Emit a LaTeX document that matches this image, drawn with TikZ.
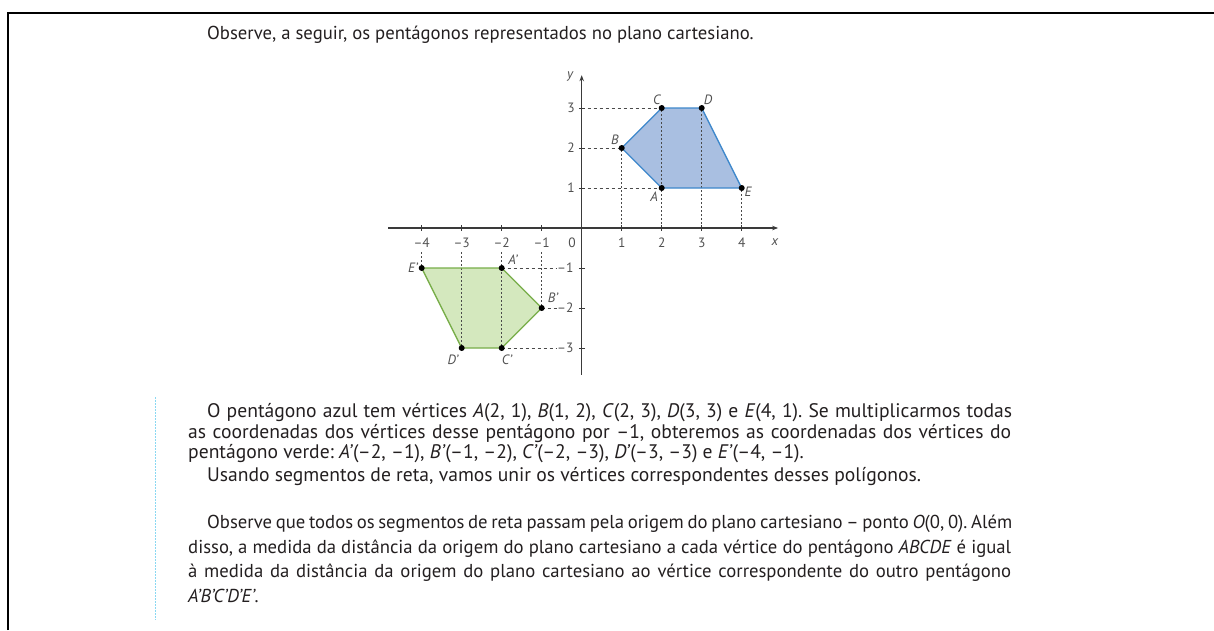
\documentclass[tikz,border=0pt]{standalone}
\usepackage{fontspec}
\setmainfont{PT Sans}
\usetikzlibrary{arrows.meta}
\definecolor{txt}{HTML}{231F20}
\definecolor{labc}{HTML}{505050}
\definecolor{axc}{HTML}{3A3A3A}
\definecolor{bluefill}{HTML}{A9BFE1}
\definecolor{bluedraw}{HTML}{3D87CB}
\definecolor{greenfill}{HTML}{D4E8BE}
\definecolor{greendraw}{HTML}{77AD48}
\definecolor{guide}{HTML}{4A4A4A}
\definecolor{cyanline}{HTML}{8AD8F2}
\frenchspacing
\begin{document}
\begin{tikzpicture}[x=1pt,y=-1pt,
  body/.style={anchor=base west, inner sep=0pt, text=txt, font=\fontsize{18.7}{22}\selectfont},
  bodyb/.style={anchor=base west, inner sep=0pt, text=txt, font=\fontsize{19.6}{22}\selectfont},
  ticklab/.style={inner sep=0pt, text=labc, font=\fontsize{13.5}{15}\selectfont},
  ptlab/.style={inner sep=0pt, text=labc, font=\fontsize{13.5}{15}\selectfont\itshape},
  axisline/.style={draw=axc, line width=1.3pt},
  hguide/.style={draw=guide, line width=0.9pt, dash pattern=on 3pt off 3pt},
  vguide/.style={draw=guide, line width=0.9pt, dash pattern=on 2pt off 2pt},
  vertexdot/.style={fill=black},
  tickmark/.style={draw=axc, line width=0.9pt}]
\useasboundingbox (0,0) rectangle (1214,630);
% frame
\coordinate (f1) at (7.5,630);
\coordinate (f2) at (7.5,12.5);
\coordinate (f3) at (1214,12.5);
\draw[line width=2pt] (f1) -- (f2) -- (f3);
% cyan margin line
\coordinate (c1) at (155,397);
\coordinate (c2) at (155,620);
\draw[cyanline, line width=0.8pt, dash pattern=on 1.5pt off 1.5pt] (c1) -- (c2);

% title
\node[body] (title) at (207,39) {Observe, a seguir, os pentágonos representados no plano cartesiano.};

% graph
\begin{scope}[shift={(581.7,228)}, x=40pt, y=40pt]
  \coordinate (O) at (0,0);
  \coordinate (A) at (2,1);
  \coordinate (B) at (1,2);
  \coordinate (C) at (2,3);
  \coordinate (D) at (3,3);
  \coordinate (E) at (4,1);
  \coordinate (Ap) at (-2,-1);
  \coordinate (Bp) at (-1,-2);
  \coordinate (Cp) at (-2,-3);
  \coordinate (Dp) at (-3,-3);
  \coordinate (Ep) at (-4,-1);
  \fill[bluefill] (A) -- (B) -- (C) -- (D) -- (E) -- cycle;
  \fill[greenfill] (Ap) -- (Bp) -- (Cp) -- (Dp) -- (Ep) -- cycle;
  % guide endpoints
  \coordinate (y1) at (0,1); \coordinate (y2) at (0,2); \coordinate (y3) at (0,3);
  \coordinate (x1) at (1,0); \coordinate (x2) at (2,0); \coordinate (x3) at (3,0); \coordinate (x4) at (4,0);
  \coordinate (ym1) at (-0.62,-1); \coordinate (ym2) at (-0.62,-2); \coordinate (ym3) at (-0.62,-3);
  \coordinate (xm1) at (-1,-0.6); \coordinate (xm2) at (-2,-0.6); \coordinate (xm3) at (-3,-0.6); \coordinate (xm4) at (-4,-0.6);
  \draw[hguide] (y3) -- (C);
  \draw[hguide] (y2) -- (B);
  \draw[hguide] (y1) -- (A);
  \draw[vguide] (x1) -- (B);
  \draw[vguide] (x2) -- (C);
  \draw[vguide] (x3) -- (D);
  \draw[vguide] (x4) -- (E);
  \draw[hguide] (Ap) -- (ym1);
  \draw[hguide] (Bp) -- (ym2);
  \draw[hguide] (Cp) -- (ym3);
  \draw[vguide] (xm4) -- (Ep);
  \draw[vguide] (xm3) -- (Dp);
  \draw[vguide] (xm2) -- (Cp);
  \draw[vguide] (xm1) -- (Bp);
  \draw[bluedraw, line width=1.3pt, line join=round] (A) -- (B) -- (C) -- (D) -- (E) -- cycle;
  \draw[greendraw, line width=1.3pt, line join=round] (Ap) -- (Bp) -- (Cp) -- (Dp) -- (Ep) -- cycle;
  % axes
  \coordinate (xs) at (-4.84,0); \coordinate (xe) at (4.91,0);
  \coordinate (ys) at (0,-3.67); \coordinate (ye) at (0,3.82);
  \draw[axisline, -{Stealth[length=6pt,width=4.5pt]}] (xs) -- (xe);
  \draw[axisline, -{Stealth[length=6pt,width=4.5pt]}] (ys) -- (ye);
  \foreach \i in {-4,-3,-2,-1,1,2,3,4} {
    \draw[tickmark] (\i,-0.07) -- (\i,0.07);
  }
  \foreach \j in {-3,-2,-1,1,2,3} {
    \draw[tickmark] (-0.07,\j) -- (0.07,\j);
  }
  % tick labels
  \node[ticklab] (tx1) at (1,-0.36) {1};
  \node[ticklab] (tx2) at (2,-0.36) {2};
  \node[ticklab] (tx3) at (3,-0.36) {3};
  \node[ticklab] (tx4) at (4,-0.36) {4};
  \node[ticklab] (txm1) at (-1,-0.36) {–1};
  \node[ticklab] (txm2) at (-2,-0.36) {–2};
  \node[ticklab] (txm3) at (-3,-0.36) {–3};
  \node[ticklab] (txm4) at (-4,-0.36) {–4};
  \node[ticklab] (t0) at (-0.24,-0.36) {0};
  \node[ticklab, anchor=east] (ty1) at (-0.17,1) {1};
  \node[ticklab, anchor=east] (ty2) at (-0.17,2) {2};
  \node[ticklab, anchor=east] (ty3) at (-0.17,3) {3};
  \node[ticklab, anchor=east] (tym1) at (-0.2,-1) {–1};
  \node[ticklab, anchor=east] (tym2) at (-0.2,-2) {–2};
  \node[ticklab, anchor=east] (tym3) at (-0.2,-3) {–3};
  \node[ptlab] (lx) at (4.83,-0.36) {x};
  \node[ptlab] (ly) at (-0.29,3.78) {y};
  % vertices
  \foreach \p in {A,B,C,D,E,Ap,Bp,Cp,Dp,Ep} {
    \fill[vertexdot] (\p) circle (3pt);
  }
  % vertex labels
  \node[ptlab] (lA) at (1.81,0.78) {A};
  \node[ptlab] (lB) at (0.83,2.2) {B};
  \node[ptlab] (lC) at (1.88,3.2) {C};
  \node[ptlab] (lD) at (3.16,3.2) {D};
  \node[ptlab] (lE) at (4.16,0.9) {E};
  \node[ptlab] (lAp) at (-1.72,-0.8) {A’};
  \node[ptlab] (lBp) at (-0.72,-1.75) {B’};
  \node[ptlab] (lCp) at (-1.87,-3.3) {C’};
  \node[ptlab] (lDp) at (-3.22,-3.3) {D’};
  \node[ptlab] (lEp) at (-4.22,-1.0) {E’};
\end{scope}

% body text
\node[bodyb] (p1) at (207,417) {\makebox[805pt][s]{O pentágono azul tem vértices \textit{A}(2, 1), \textit{B}(1, 2), \textit{C}(2, 3), \textit{D}(3, 3) e \textit{E}(4, 1). Se multiplicarmos todas}};
\node[bodyb] (p2) at (188,438) {\makebox[823pt][s]{as coordenadas dos vértices desse pentágono por –1, obteremos as coordenadas dos vértices do}};
\node[bodyb] (p3) at (188,458) {pentágono verde: \textit{A’}(–2, –1), \textit{B’}(–1, –2), \textit{C’}(–2, –3), \textit{D’}(–3, –3) e \textit{E’}(–4, –1).};
\node[bodyb] (p4) at (207,481) {Usando segmentos de reta, vamos unir os vértices correspondentes desses polígonos.};
\node[body] (p5) at (207,528) {\makebox[805pt][s]{Observe que todos os segmentos de reta passam pela origem do plano cartesiano – ponto \textit{O}(0, 0). Além}};
\node[body] (p6) at (188,553) {\makebox[823pt][s]{disso, a medida da distância da origem do plano cartesiano a cada vértice do pentágono \textit{ABCDE} é igual}};
\node[body] (p7) at (188,577) {\makebox[823pt][s]{à medida da distância da origem do plano cartesiano ao vértice correspondente do outro pentágono}};
\node[body] (p8) at (188,602) {\textit{A’B’C’D’E’}.};
\end{tikzpicture}
\end{document}
